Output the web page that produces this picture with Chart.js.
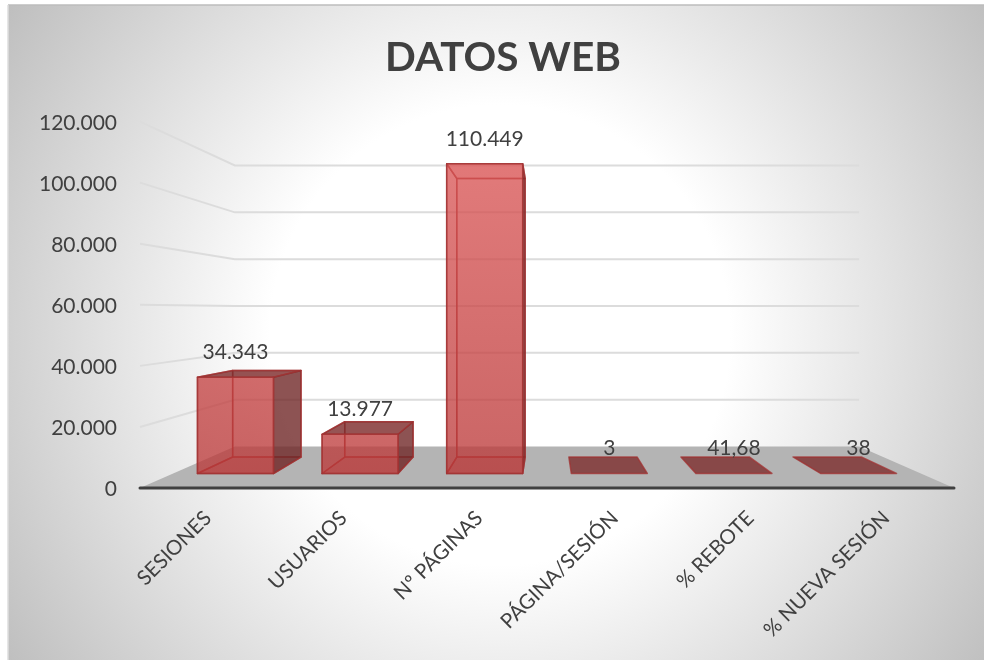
<!DOCTYPE html>
<html>
<head>
<meta charset="utf-8">
<style>
  html, body { margin: 0; padding: 0; background: #fff; }
  #wrap { width: 984px; height: 660px; }
</style>
<script src="https://cdn.jsdelivr.net/npm/chart.js@4/dist/chart.umd.min.js"></script>
</head>
<body>
<div id="wrap"><canvas id="myChart" width="984" height="660"></canvas></div>
<script>
var categories = ['SESIONES', 'USUARIOS', 'Nº PÁGINAS', 'PÁGINA/SESIÓN', '% REBOTE', '% NUEVA SESIÓN'];
var values = [34343, 13977, 110449, 3, 41.68, 38];
var valueLabels = ['34.343', '13.977', '110.449', '3', '41,68', '38'];

// perspective of the excel 3d column chart: vanishing point and depth scales
var vanishX = 547, vanishY = 310;
var backWall = 0.767, barFront = 0.9185, barBack = 0.826;

function project(x, y, s) {
  return { x: vanishX + (x - vanishX) * s, y: vanishY + (y - vanishY) * s };
}

function face(ctx, pts, fill, stroke) {
  ctx.beginPath();
  pts.forEach(function(p, i) {
    if (i === 0) ctx.moveTo(p.x, p.y); else ctx.lineTo(p.x, p.y);
  });
  ctx.closePath();
  ctx.fillStyle = fill;
  ctx.fill();
  ctx.strokeStyle = stroke;
  ctx.lineWidth = 1.5;
  ctx.lineJoin = 'round';
  ctx.stroke();
}

var backgroundPlugin = {
  id: 'backgroundPlugin',
  beforeDraw: function(chart) {
    var ctx = chart.ctx;
    ctx.save();
    var g = ctx.createRadialGradient(500, 335, 230, 500, 335, 590);
    g.addColorStop(0, '#ffffff');
    g.addColorStop(1, '#bfbfbf');
    ctx.fillStyle = g;
    ctx.fillRect(8, 5, 976, 655);
    ctx.strokeStyle = '#bcbcbc';
    ctx.lineWidth = 1.5;
    ctx.beginPath();
    ctx.moveTo(8, 5);
    ctx.lineTo(984, 5);
    ctx.stroke();
    ctx.strokeStyle = '#dedede';
    ctx.beginPath();
    ctx.moveTo(8, 660);
    ctx.lineTo(8, 5);
    ctx.stroke();
    ctx.restore();
  }
};

var box3dPlugin = {
  id: 'box3dPlugin',
  // title sits a little right of the canvas centre
  afterLayout: function(chart) {
    chart.titleBlock.left += 11.5;
    chart.titleBlock.right += 11.5;
  },
  // floor and walls go under the bars
  beforeDatasetsDraw: function(chart) {
    var ctx = chart.ctx, area = chart.chartArea, yScale = chart.scales.y;
    ctx.save();
    var fl = project(area.left, area.bottom, backWall);
    var fr = project(area.right, area.bottom, backWall);
    ctx.beginPath();
    ctx.moveTo(area.left, area.bottom);
    ctx.lineTo(fl.x, fl.y);
    ctx.lineTo(fr.x, fr.y);
    ctx.lineTo(area.right, area.bottom);
    ctx.closePath();
    ctx.fillStyle = '#b4b4b4';
    ctx.fill();

    ctx.strokeStyle = '#dcdcdc';
    ctx.lineWidth = 2;
    yScale.ticks.forEach(function(t) {
      if (t.value === 0) return;
      var y = yScale.getPixelForValue(t.value);
      var a = project(area.left, y, backWall);
      var b = project(area.right, y, backWall);
      ctx.beginPath();
      ctx.moveTo(area.left, y);
      ctx.lineTo(a.x, a.y);
      ctx.lineTo(b.x, b.y);
      ctx.stroke();
    });

    ctx.strokeStyle = '#404040';
    ctx.lineWidth = 3;
    ctx.lineCap = 'round';
    ctx.beginPath();
    ctx.moveTo(area.left, area.bottom);
    ctx.lineTo(area.right, area.bottom);
    ctx.stroke();
    ctx.restore();
  },
  afterDatasetsDraw: function(chart) {
    var ctx = chart.ctx, meta = chart.getDatasetMeta(0), area = chart.chartArea;
    ctx.save();
    meta.data.forEach(function(bar, i) {
      var l = bar.x - bar.width / 2, r = bar.x + bar.width / 2;
      var top = bar.y, base = bar.base;
      var edge = 'rgba(160,50,50,0.75)';
      var fl = project(l, base, barFront), fr = project(r, base, barFront);
      var tl = project(l, top, barFront), tr = project(r, top, barFront);
      var bfl = project(l, base, barBack), bfr = project(r, base, barBack);
      var btl = project(l, top, barBack), btr = project(r, top, barBack);

      var flat = fl.y - tl.y < 2;
      var topFromAbove = tl.y > vanishY;

      if (!flat) {
        face(ctx, [btl, btr, bfr, bfl], 'rgba(200,80,80,0.12)', edge);
        face(ctx, [fl, fr, bfr, bfl], 'rgba(170,60,60,0.25)', edge);
        face(ctx, [tl, btl, bfl, fl], 'rgba(200,80,80,0.08)', edge);
      }
      face(ctx, [tl, tr, btr, btl], topFromAbove ? 'rgba(125,45,45,0.8)' : 'rgba(225,110,110,0.2)', edge);
      if (!flat) {
        face(ctx, [tr, btr, bfr, fr], 'rgba(110,40,40,0.78)', edge);
        // front gets lighter with height, so the tall bar is paler at the top
        var g = ctx.createLinearGradient(0, fl.y, 0, area.top + 40);
        g.addColorStop(0, 'rgba(186,56,56,0.75)');
        g.addColorStop(1, 'rgba(218,85,85,0.75)');
        face(ctx, [tl, tr, fr, fl], g, edge);
      }

      // value labels sit over the front top edge
      var labelPos = project(bar.x, top, barFront);
      ctx.fillStyle = '#404040';
      ctx.font = '21px Lato';
      ctx.textAlign = 'center';
      ctx.textBaseline = 'middle';
      ctx.fillText(valueLabels[i], labelPos.x, labelPos.y - 25);
    });
    ctx.restore();
  }
};

var canvas = document.getElementById('myChart');
var ctx = canvas.getContext('2d');

var myChart = new Chart(ctx, {
  type: 'bar',
  data: {
    labels: categories,
    datasets: [{
      label: 'DATOS WEB',
      data: values,
      backgroundColor: 'transparent',
      borderWidth: 0,
      barPercentage: 0.61,
      categoryPercentage: 1
    }]
  },
  options: {
    responsive: false,
    animation: false,
    layout: { padding: { left: 29, right: 30, top: 5, bottom: 0 } },
    plugins: {
      legend: { display: false },
      tooltip: { enabled: false },
      title: {
        display: true,
        text: 'DATOS WEB',
        color: '#404040',
        font: { family: 'Lato', size: 40.5, weight: 'bold' },
        padding: { top: 29, bottom: 39 }
      }
    },
    scales: {
      x: {
        grid: { display: false, drawTicks: false },
        border: { display: false },
        afterFit: function(scale) { scale.height = 172; },
        ticks: {
          color: '#404040',
          font: { family: 'Lato', size: 20.5 },
          minRotation: 45,
          maxRotation: 45,
          autoSkip: false,
          padding: 18
        }
      },
      y: {
        min: 0,
        max: 120000,
        grid: { display: false, drawTicks: false },
        border: { display: false },
        afterFit: function(scale) { scale.width = 111; },
        ticks: {
          stepSize: 20000,
          color: '#404040',
          font: { family: 'Lato', size: 21 },
          padding: 23,
          labelOffset: 1.5,
          callback: function(v) { return v === 0 ? '0' : v.toLocaleString('es-ES'); }
        }
      }
    }
  },
  plugins: [backgroundPlugin, box3dPlugin]
});
</script>
</body>
</html>
